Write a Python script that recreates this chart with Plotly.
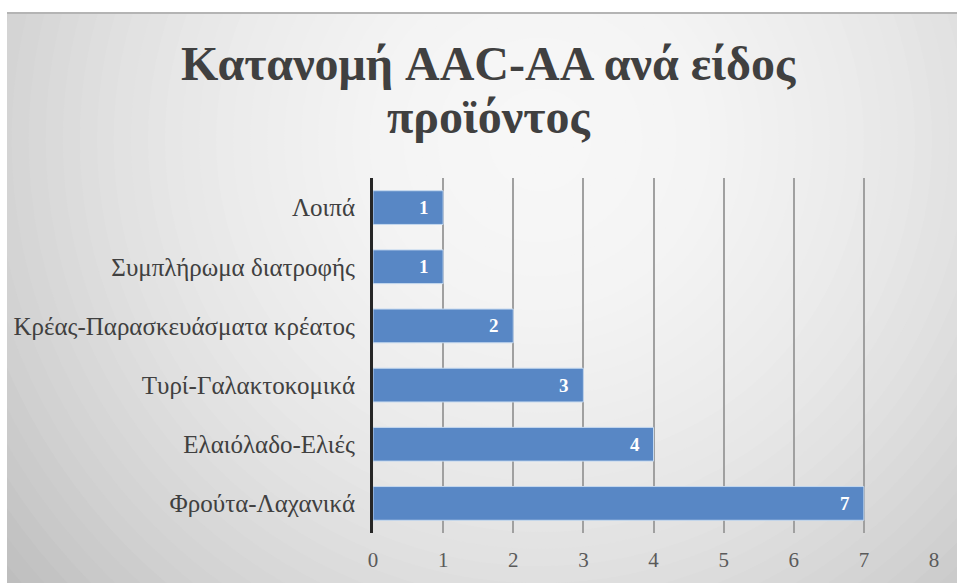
import plotly.graph_objects as go

# Product categories (bottom to top) and number of AAC-AA cases per category
categories = [
    "Φρούτα-Λαχανικά",
    "Ελαιόλαδο-Ελιές",
    "Τυρί-Γαλακτοκομικά",
    "Κρέας-Παρασκευάσματα κρέατος",
    "Συμπλήρωμα διατροφής",
    "Λοιπά",
]
counts = [7, 4, 3, 2, 1, 1]
x_ticks = [0, 1, 2, 3, 4, 5, 6, 7, 8]

title_lines = ["Κατανομή AAC-AA ανά είδος", "προϊόντος"]

# Page / plot geometry in pixels
W, H = 957, 583
ML, MR, MT, MB = 373, 23, 178, 50
PW, PH = W - ML - MR, H - MT - MB


def px_x(px):
    return (px - ML) / PW


def px_y(py):
    return (H - MB - py) / PH


SERIF = "Liberation Serif"

fig = go.Figure()
fig.add_trace(go.Bar(
    x=counts,
    y=categories,
    orientation="h",
    width=0.57,
    marker=dict(color="#5887c5", line=dict(color="#c4d8ef", width=1)),
    hoverinfo="x+y",
))

# Radial grey backdrop made of concentric ellipses (outer = darker)
shapes = []
cx, cy, rx, ry = 540, 140, 600, 600
steps = 44
dmax = 1.25
for i in range(steps):
    d = dmax * (1 - i / steps)
    g = int(round(247 - 42 * d * d))
    g = max(g, 185)
    shapes.append(dict(
        type="circle", xref="paper", yref="paper", layer="below",
        x0=px_x(cx - rx * d), x1=px_x(cx + rx * d),
        y0=px_y(cy + ry * d), y1=px_y(cy - ry * d),
        fillcolor=f"rgb({g},{g},{g})", line=dict(width=0),
    ))
# White page border around the chart box
shapes.append(dict(type="rect", xref="paper", yref="paper", layer="below",
                   x0=px_x(-5), x1=px_x(W + 5), y0=px_y(12), y1=px_y(-5),
                   fillcolor="white", line=dict(width=0)))
shapes.append(dict(type="rect", xref="paper", yref="paper", layer="below",
                   x0=px_x(-5), x1=px_x(7), y0=px_y(H + 5), y1=px_y(-5),
                   fillcolor="white", line=dict(width=0)))
shapes.append(dict(type="line", xref="paper", yref="paper", layer="below",
                   x0=px_x(7), x1=px_x(W + 5), y0=px_y(13), y1=px_y(13),
                   line=dict(color="#b4b4b4", width=2)))

annotations = []
# Value labels inside the bar ends
for c, v in zip(categories, counts):
    annotations.append(dict(
        x=v, y=c, xref="x", yref="y", text=f"<b>{v}</b>",
        showarrow=False, xanchor="right", yanchor="middle", xshift=-12,
        font=dict(family=SERIF, size=19, color="white"),
    ))

# Two-line chart title
for line, yc in zip(title_lines, [63, 116]):
    annotations.append(dict(
        x=px_x(488), y=px_y(yc), xref="paper", yref="paper",
        text=f"<b>{line}</b>", showarrow=False,
        xanchor="center", yanchor="middle",
        font=dict(family=SERIF, size=48, color="#404040"),
    ))

fig.update_layout(
    width=W, height=H,
    margin=dict(l=ML, r=MR, t=MT, b=MB, pad=0),
    paper_bgcolor="white",
    plot_bgcolor="rgba(0,0,0,0)",
    showlegend=False,
    bargap=0.43,
    shapes=shapes,
    annotations=annotations,
    xaxis=dict(
        range=[0, 8], tickmode="array", tickvals=x_ticks,
        showgrid=True, gridcolor="#a0a0a0", gridwidth=1.6,
        zeroline=False, showline=False, ticks="",
        tickfont=dict(family=SERIF, size=21, color="#5a5a5a"),
        ticklabelstandoff=12, fixedrange=True,
    ),
    yaxis=dict(
        categoryorder="array", categoryarray=categories,
        showline=True, linecolor="#262626", linewidth=3,
        showgrid=False, zeroline=False, ticks="",
        tickfont=dict(family=SERIF, size=25, color="#404040"),
        ticklabelstandoff=10, fixedrange=True,
    ),
)

fig.write_html("out.html")
